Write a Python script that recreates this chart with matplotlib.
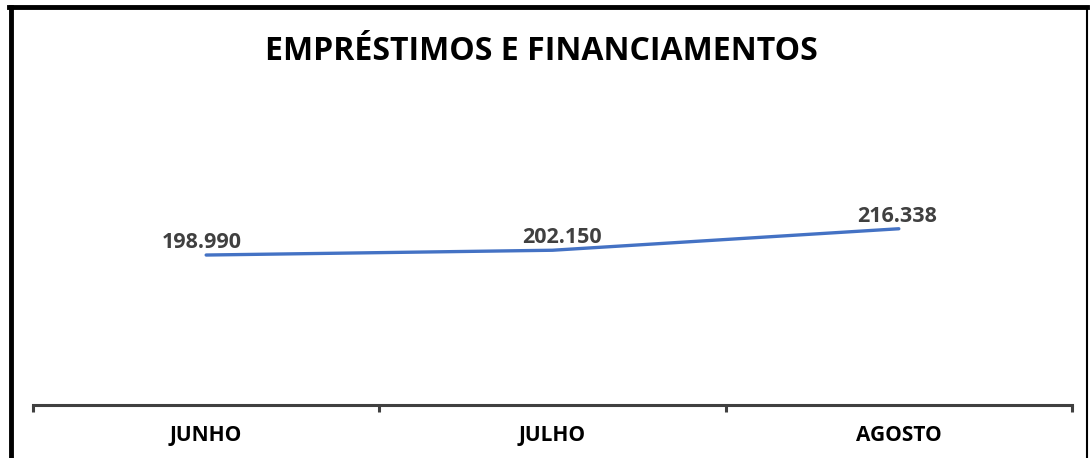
import matplotlib
matplotlib.use("Agg")
import matplotlib.pyplot as plt

# values
months = ["JUNHO", "JULHO", "AGOSTO"]
values = [198990, 202150, 216338]
labels = ["198.990", "202.150", "216.338"]

FONT = "Open Sans"
LINE_BLUE = "#4472C4"
AXIS_GRAY = "#404040"
# small horizontal nudges of the data labels, in points
label_dx = [-3, 6.5, -1.5]

fig = plt.figure(figsize=(10.9, 4.58), dpi=100)
fig.patch.set_facecolor("white")

ax = fig.add_axes([33 / 1090, 53 / 458, 1039 / 1090, 303 / 458])
x = list(range(len(months)))
ax.plot(x, values, color=LINE_BLUE, lw=2.4, solid_capstyle="round")
ax.set_xlim(-0.5, len(months) - 0.5)
ax.set_ylim(100000, 300000)

for xi, v, lab, dx in zip(x, values, labels, label_dx):
    ax.annotate(lab, (xi, v), xytext=(dx, 1.5), textcoords="offset points",
                ha="center", va="bottom", fontsize=15.5, fontweight="bold",
                color=AXIS_GRAY, family=FONT)

for side in ("top", "right", "left"):
    ax.spines[side].set_visible(False)
ax.spines["bottom"].set_color(AXIS_GRAY)
ax.spines["bottom"].set_linewidth(2.2)
ax.set_yticks([])
# category boundaries carry the tick marks, labels sit in between
ax.set_xticks([-0.5, 0.5, 1.5, 2.5])
ax.set_xticklabels([])
ax.tick_params(axis="x", length=5, width=2.2, color=AXIS_GRAY)
for xi, m in zip(x, months):
    ax.text(xi, -0.1, m, transform=ax.get_xaxis_transform(), ha="center",
            va="center", fontsize=15, fontweight="bold", color="black",
            family=FONT)

fig.text(541 / 1090, 1 - 52 / 458, "EMPRÉSTIMOS E FINANCIAMENTOS",
         ha="center", va="center", fontsize=23, fontweight="bold",
         color="black", family=FONT)

# frame around the chart (bottom edge is cut off in the original)
fig.add_artist(plt.Line2D([10.5 / 1090, 10.5 / 1090], [0, 1 - 7 / 458],
                          transform=fig.transFigure, color="black", lw=3.5))
fig.add_artist(plt.Line2D([9 / 1090, 1087 / 1090], [1 - 7 / 458, 1 - 7 / 458],
                          transform=fig.transFigure, color="black", lw=3.5))
fig.add_artist(plt.Line2D([1087 / 1090, 1087 / 1090], [0, 1 - 7 / 458],
                          transform=fig.transFigure, color="black", lw=1.5))

fig.savefig("out.png", dpi=100, facecolor="white")
